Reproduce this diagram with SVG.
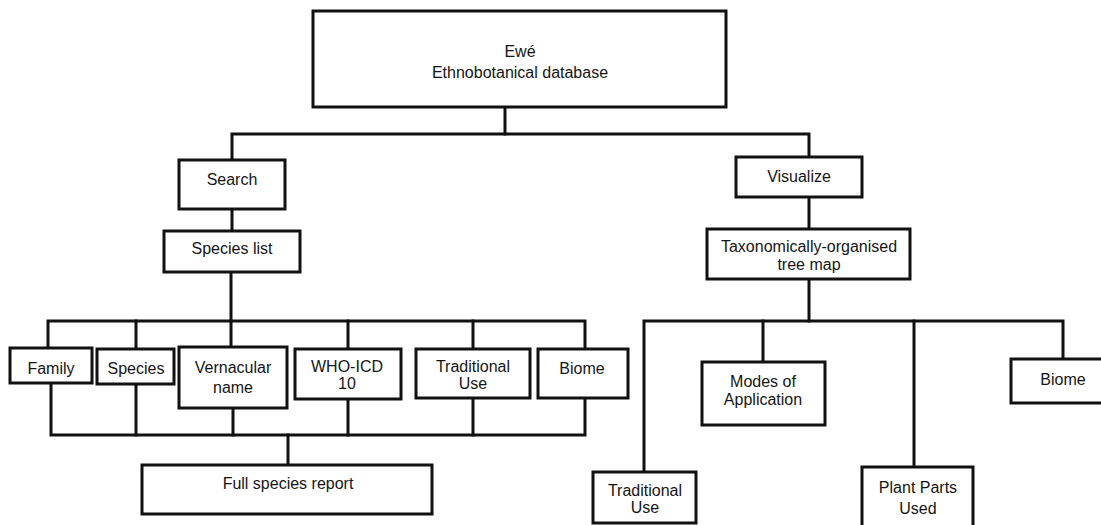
<svg xmlns="http://www.w3.org/2000/svg" width="1101" height="525" viewBox="0 0 1101 525">
<style>
.b{fill:#fff;stroke:#111;stroke-width:3}
.c{fill:none;stroke:#111;stroke-width:3;stroke-linejoin:miter;stroke-linecap:square}
text{font-family:"Liberation Sans",Arial,sans-serif;font-size:16px;fill:#151515;text-anchor:middle}
</style>
<rect width="1101" height="525" fill="#fff"/>
<g id="connectors">
<path class="c" d="M505,107 V134"/>
<path class="c" d="M232,160 V134 H809 V157"/>
<path class="c" d="M232,209 V231"/>
<path class="c" d="M231,272 V321"/>
<path class="c" d="M48,348 V321 H585 V349"/>
<path class="c" d="M136,321 V349 M231,321 V347 M348,321 V349 M473,321 V349"/>
<path class="c" d="M51,383 V435 H585 V398"/>
<path class="c" d="M136,384 V435 M233,408 V435 M348,399 V435 M473,398 V435"/>
<path class="c" d="M288,435 V465"/>
<path class="c" d="M809,197 V229"/>
<path class="c" d="M809,279 V321"/>
<path class="c" d="M644,472 V321 H1063 V359"/>
<path class="c" d="M763,321 V362 M914,321 V467"/>
</g>
<g id="root"><rect class="b" x="313" y="11" width="413" height="96"/><text x="520" y="57">Ewé</text><text x="520" y="78">Ethnobotanical database</text></g>
<g id="search"><rect class="b" x="179" y="160" width="106" height="49"/><text x="232" y="185">Search</text></g>
<g id="species-list"><rect class="b" x="164" y="231" width="136" height="41"/><text x="232" y="254">Species list</text></g>
<g id="visualize"><rect class="b" x="736" y="157" width="126" height="40"/><text x="799" y="182">Visualize</text></g>
<g id="tree-map"><rect class="b" x="707" y="229" width="203" height="50"/><text x="809" y="252">Taxonomically-organised</text><text x="809" y="270">tree map</text></g>
<g id="family"><rect class="b" x="10" y="348" width="82" height="35"/><text x="51" y="374">Family</text></g>
<g id="species"><rect class="b" x="97" y="349" width="77" height="35"/><text x="136" y="374">Species</text></g>
<g id="vernacular"><rect class="b" x="179" y="347" width="108" height="61"/><text x="233" y="373">Vernacular</text><text x="233" y="393">name</text></g>
<g id="who-icd"><rect class="b" x="295" y="349" width="106" height="50"/><text x="347" y="372">WHO-ICD</text><text x="347" y="389">10</text></g>
<g id="traditional-use-left"><rect class="b" x="416" y="349" width="114" height="49"/><text x="473" y="372">Traditional</text><text x="473" y="389">Use</text></g>
<g id="biome-left"><rect class="b" x="538" y="349" width="90" height="49"/><text x="582" y="374">Biome</text></g>
<g id="full-report"><rect class="b" x="142" y="465" width="290" height="49"/><text x="288" y="489">Full species report</text></g>
<g id="traditional-use-right"><rect class="b" x="593" y="472" width="103" height="51"/><text x="645" y="496">Traditional</text><text x="645" y="513">Use</text></g>
<g id="modes"><rect class="b" x="702" y="362" width="123" height="63"/><text x="763" y="387">Modes of</text><text x="763" y="405">Application</text></g>
<g id="plant-parts"><rect class="b" x="862" y="467" width="111" height="63"/><text x="918" y="493">Plant Parts</text><text x="918" y="514">Used</text></g>
<g id="biome-right"><rect class="b" x="1011" y="359" width="100" height="44"/><text x="1063" y="385">Biome</text></g>
</svg>
